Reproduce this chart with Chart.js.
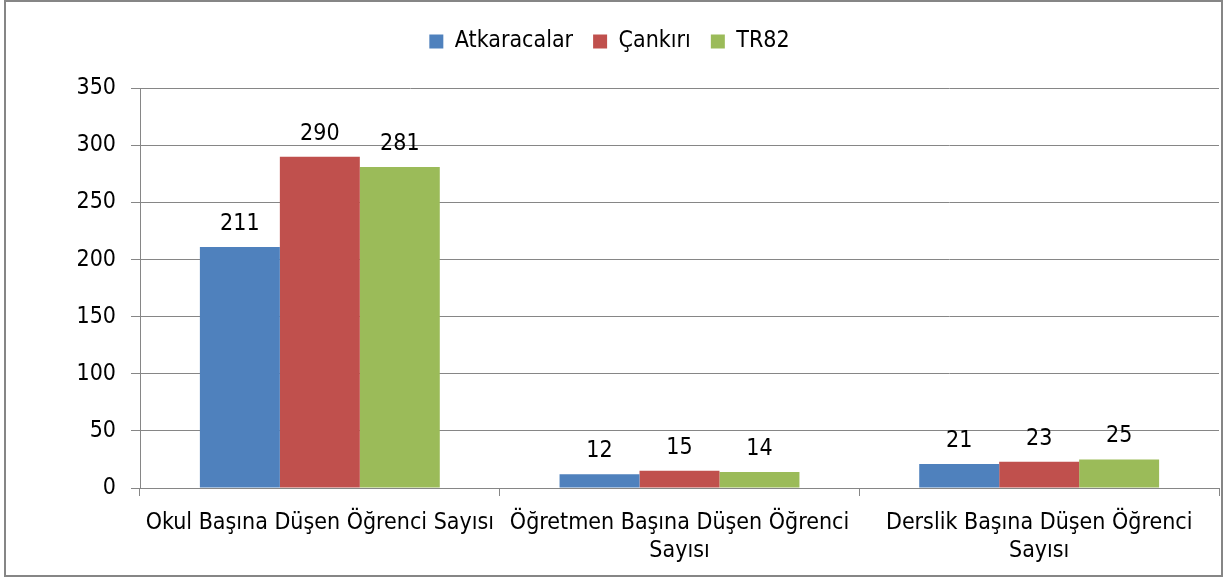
<!DOCTYPE html>
<html>
<head>
<meta charset="utf-8">
<script src="https://cdn.jsdelivr.net/npm/chart.js@4.4.1/dist/chart.umd.min.js"></script>
<style>
  html, body { margin: 0; padding: 0; background: #fff; }
</style>
</head>
<body>
<canvas id="grafik" width="1231" height="581"></canvas>
<script>
// Veriler
const kategoriler = [
    'Okul Başına Düşen Öğrenci Sayısı',
    ['Öğretmen Başına Düşen Öğrenci', 'Sayısı'],
    ['Derslik Başına Düşen Öğrenci', 'Sayısı']
];
const atkaracalar = [211, 12, 21];
const cankiri = [290, 15, 23];
const tr82 = [281, 14, 25];
const yEksenMin = 0;
const yEksenMax = 350;
const yEksenAdim = 50;

const FONT = "'DejaVu Sans Condensed', 'DejaVu Sans', sans-serif";
const GRI = '#868686';

// Dis cerceve
const cerceve = {
    id: 'cerceve',
    beforeDraw(chart) {
        const ctx = chart.ctx;
        ctx.save();
        ctx.strokeStyle = GRI;
        ctx.lineWidth = 2;
        ctx.strokeRect(5, 1, 1217, 575);
        ctx.restore();
    }
};

// Cubuk ustu degerler
const degerEtiketi = {
    id: 'degerEtiketi',
    afterDatasetsDraw(chart) {
        const ctx = chart.ctx;
        ctx.save();
        ctx.font = '23px ' + FONT;
        ctx.fillStyle = '#000';
        ctx.textAlign = 'center';
        ctx.textBaseline = 'alphabetic';
        chart.data.datasets.forEach((ds, i) => {
            chart.getDatasetMeta(i).data.forEach((bar, j) => {
                ctx.fillText(ds.data[j], bar.x, bar.y - 17);
            });
        });
        ctx.restore();
    }
};

new Chart(document.getElementById('grafik'), {
    type: 'bar',
    data: {
        labels: kategoriler,
        datasets: [
            { label: 'Atkaracalar', data: atkaracalar, backgroundColor: '#4F81BD' },
            { label: 'Çankırı', data: cankiri, backgroundColor: '#C0504D' },
            { label: 'TR82', data: tr82, backgroundColor: '#9BBB59' }
        ]
    },
    options: {
        responsive: false,
        animation: false,
        devicePixelRatio: 1,
        layout: { padding: { top: 10, right: 12, left: 0, bottom: 0 } },
        datasets: {
            bar: { categoryPercentage: 0.667, barPercentage: 1.0 }
        },
        plugins: {
            legend: {
                position: 'top',
                weight: 3000,
                labels: {
                    color: '#000',
                    font: { family: FONT, size: 23 },
                    boxWidth: 14,
                    boxHeight: 14,
                    padding: 20
                }
            },
            // bos baslik: lejant ile cizim alani arasinda bosluk
            title: {
                display: true,
                text: '',
                font: { size: 1 },
                padding: { top: 12, bottom: 12 }
            },
            tooltip: { enabled: false }
        },
        scales: {
            x: {
                grid: { display: true, drawOnChartArea: false, offset: true, color: GRI, tickLength: 8 },
                border: { color: GRI, width: 1 },
                ticks: { color: '#000', font: { family: FONT, size: 23, lineHeight: 1.22 }, padding: 13, maxRotation: 0, autoSkip: false },
                afterFit: s => { s.height = 93; }
            },
            y: {
                min: yEksenMin,
                max: yEksenMax,
                ticks: { stepSize: yEksenAdim, color: '#000', font: { family: FONT, size: 23 }, padding: 15 },
                grid: { color: GRI, tickLength: 9 },
                border: { color: GRI, width: 1 },
                afterFit: s => { s.width = 140; }
            }
        }
    },
    plugins: [cerceve, degerEtiketi]
});
</script>
</body>
</html>
